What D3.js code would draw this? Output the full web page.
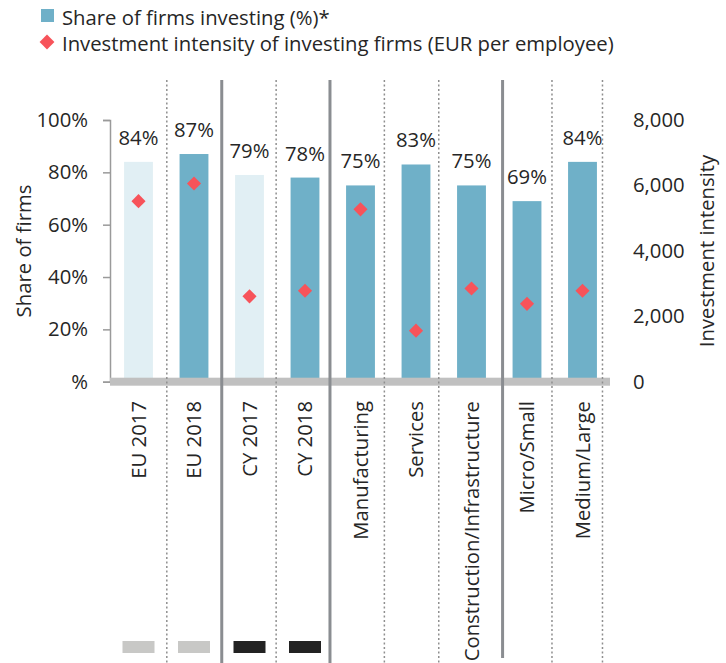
<!DOCTYPE html>
<head>
	<meta charset="UTF-8">
	<script src="https://d3js.org/d3.v7.min.js"></script>
	<style>
		body { margin: 0; background: #fff; }
		text { font-family: "Open Sans", "Noto Sans", sans-serif; fill: #262626; }
	</style>
</head>
<body>
	<div id="chart"></div>
<script>
// categories and values
const categories = ["EU 2017", "EU 2018", "CY 2017", "CY 2018", "Manufacturing", "Services",
                    "Construction/Infrastructure", "Micro/Small", "Medium/Large"];
const shareInvesting = [84, 87, 79, 78, 75, 83, 75, 69, 84];
const intensity = [5520, 6060, 2610, 2780, 5270, 1560, 2850, 2380, 2780];
const lightBars = ["EU 2017", "CY 2017"];
const leftTicks = [0, 20, 40, 60, 80, 100];
const rightTicks = [0, 2000, 4000, 6000, 8000];
// dividers, position in category units (0 = left edge of first band)
const dividers = [
  {at: 1.01, solid: false}, {at: 2.0, solid: true}, {at: 2.98, solid: false},
  {at: 3.95, solid: true}, {at: 4.93, solid: false}, {at: 5.91, solid: false},
  {at: 7.06, solid: true}, {at: 7.95, solid: false}, {at: 8.86, solid: false}
];
// little group markers at the bottom
const chips = [
  {cat: "EU 2017", color: "#c8c8c6"}, {cat: "EU 2018", color: "#c8c8c6"},
  {cat: "CY 2017", color: "#222222"}, {cat: "CY 2018", color: "#222222"}
];

const width = 726, height = 663;
const fs = 20.3;
const svg = d3.select("#chart").append("svg")
  .attr("width", width).attr("height", height);

const x = d3.scaleBand().domain(categories).range([110.75, 610.25])
  .paddingInner(0.48).paddingOuter(0.24);
const y = d3.scaleLinear().domain([0, 100]).range([381.7, 120]);
const y2 = d3.scaleLinear().domain([0, 8000]).range([381.7, 120]);
const divX = a => x.range()[0] + a * x.step();

// legend
const legend = svg.append("g");
legend.append("rect").attr("x", 41).attr("y", 9).attr("width", 13).attr("height", 13).attr("fill", "#6fb0c8");
legend.append("text").attr("x", 62).attr("y", 25).attr("font-size", fs).text("Share of firms investing (%)*");
legend.append("path").attr("d", d3.symbol(d3.symbolSquare, 110)()).attr("transform", "translate(47,42) rotate(45)")
  .attr("fill", "#f7535a");
legend.append("text").attr("x", 62).attr("y", 51).attr("font-size", fs)
  .text("Investment intensity of investing firms (EUR per employee)");

// left axis
const leftAxis = svg.append("g").attr("transform", "translate(110,0)")
  .call(d3.axisLeft(y).tickValues(leftTicks).tickSize(7).tickPadding(15)
    .tickFormat(d => d === 0 ? "%" : d + "%"));
leftAxis.select(".domain").attr("stroke", "#9a9a9a").attr("stroke-width", 1.5);
leftAxis.selectAll(".tick line").attr("stroke", "#9a9a9a").attr("stroke-width", 1.5);
leftAxis.selectAll(".tick text").attr("font-size", fs).attr("fill", "#262626");

// right axis
const rightAxis = svg.append("g").attr("transform", "translate(633,0)")
  .call(d3.axisRight(y2).tickValues(rightTicks).tickSize(0).tickPadding(0).tickFormat(d3.format(",")));
rightAxis.select(".domain").remove();
rightAxis.selectAll(".tick text").attr("font-size", fs).attr("fill", "#262626");

// axis titles
svg.append("text").attr("transform", "translate(31,251) rotate(-90)")
  .attr("text-anchor", "middle").attr("font-size", fs).text("Share of firms");
svg.append("text").attr("transform", "translate(714,251) rotate(-90)")
  .attr("text-anchor", "middle").attr("font-size", fs).text("Investment intensity");

// bars
svg.append("g").selectAll("rect").data(categories).join("rect")
  .attr("x", d => x(d)).attr("width", x.bandwidth())
  .attr("y", (d, i) => y(shareInvesting[i]))
  .attr("height", (d, i) => y(0) - y(shareInvesting[i]))
  .attr("fill", d => lightBars.includes(d) ? "#e1eff4" : "#6fb0c8");

// value labels
svg.append("g").selectAll("text").data(categories).join("text")
  .attr("x", d => x(d) + x.bandwidth() / 2)
  .attr("y", (d, i) => y(shareInvesting[i]) - 17)
  .attr("text-anchor", "middle").attr("font-size", fs)
  .text((d, i) => shareInvesting[i] + "%");

// baseline band
svg.append("rect").attr("x", 110).attr("y", y(0) - 4).attr("width", 500).attr("height", 8).attr("fill", "#c0c0c0");

// diamonds
svg.append("g").selectAll("path").data(categories).join("path")
  .attr("d", d3.symbol(d3.symbolSquare, 100)())
  .attr("transform", (d, i) => `translate(${x(d) + x.bandwidth() / 2},${y2(intensity[i])}) rotate(45)`)
  .attr("fill", "#f7535a");

// category labels
svg.append("g").selectAll("text").data(categories).join("text")
  .attr("transform", d => `translate(${x(d) + x.bandwidth() / 2},401) rotate(-90)`)
  .attr("text-anchor", "end").attr("dy", "0.35em").attr("font-size", fs)
  .text(d => d);

// dividers
svg.append("g").selectAll("line").data(dividers).join("line")
  .attr("x1", d => divX(d.at)).attr("x2", d => divX(d.at))
  .attr("y1", 80).attr("y2", d => d.solid && d.at > 7 ? 658 : height)
  .attr("stroke", d => d.solid ? "#8a8d91" : "#8f8f8f")
  .attr("stroke-width", d => d.solid ? 3 : 1.5)
  .attr("stroke-dasharray", d => d.solid ? null : "2,2.5");

// group chips
svg.append("g").selectAll("rect").data(chips).join("rect")
  .attr("x", d => x(d.cat) + x.bandwidth() / 2 - 16).attr("y", 641)
  .attr("width", 32).attr("height", 12).attr("fill", d => d.color);
</script>
</body>
</html>
